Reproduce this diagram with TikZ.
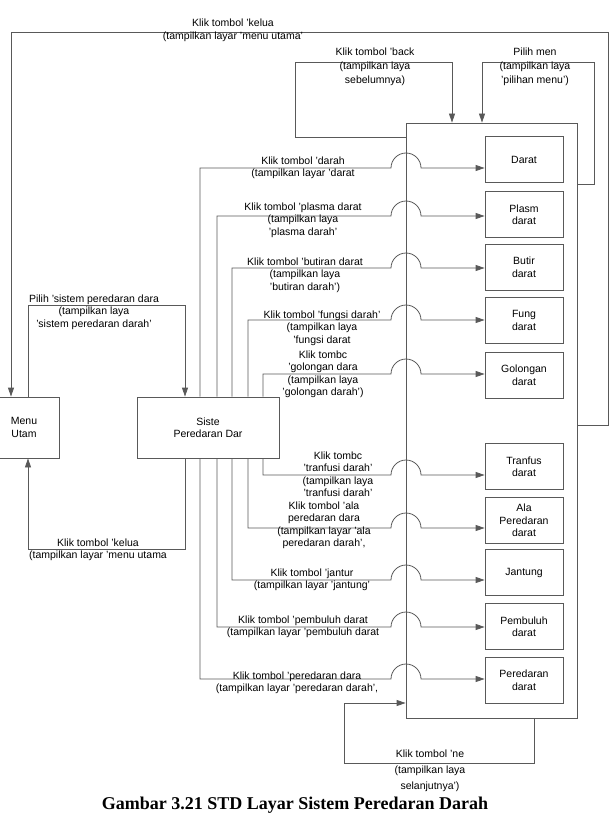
\documentclass[tikz,border=0pt]{standalone}
\usepackage{fontspec}
\setmainfont{Liberation Sans}
\newfontfamily\capfont{Liberation Serif}
\usetikzlibrary{arrows.meta}
\tikzset{pin/.style={-{Triangle[length=9pt,width=6pt]}},
  wire/.style={draw=black!65, line width=0.8pt},
  blk/.style={draw=black!65, line width=0.8pt, align=center, inner sep=0pt,
    minimum width=78pt, minimum height=46pt},
  lbl/.style={align=center, inner sep=0pt},
  lblwide/.style={lbl, font=\fontsize{10.5}{14}\selectfont}}

\begin{document}
\begin{tikzpicture}[x=1pt, y=-1pt, font=\fontsize{10.5}{12.5}\selectfont]
  \useasboundingbox (0,0) rectangle (614,821);
  % main screens
  \node[blk, minimum width=70pt, minimum height=61pt] (menu) at (24,427.5) {Menu\\Utam};
  \node[blk, minimum width=142pt, minimum height=61pt] (sis) at (208,427.5) {Siste\\Peredaran Dar};
  % frame holding the sub screens
  \node[blk, minimum width=171pt, minimum height=595pt] (frame) at (491.5,420.5) {};
  \foreach \nm/\y/\txt in {darah/159.5/{Darat}, plasma/214.5/{Plasm\\darat},
    butir/267/{Butir\\darat}, fungsi/320.5/{Fung\\darat}, golongan/375/{Golongan\\darat},
    tranfusi/466.5/{Tranfus\\darat}, alat/520.5/{Ala\\Peredaran\\darat},
    jantung/572.5/{Jantung}, pembuluh/626.5/{Pembuluh\\darat}, peredaran/680/{Peredaran\\darat}}{
    \node[blk] (\nm) at (524,\y) {\txt};
  }
  % branches leaving the top of the sistem screen
  \foreach \nm/\x/\y/\lx/\ly/\txt in {
    darah/200/168/303/168/{Klik tombol 'darah\\(tampilkan layar 'darat},
    plasma/217/216/303/220/{Klik tombol 'plasma darat\\(tampilkan laya\\'plasma darah'},
    butir/232/268/305/275/{Klik tombol 'butiran darat\\(tampilkan laya\\'butiran darah')},
    fungsi/248/320/322/328/{Klik tombol 'fungsi darah'\\(tampilkan laya\\'fungsi darat},
    golongan/263/374/323/374.5/{Klik tombc\\'golongan dara\\(tampilkan laya\\'golongan darah')}}{
    \draw[wire, pin] (\x,0 |- sis.north) |- (391,\y) arc[start angle=180, end angle=360, radius=15] -- (\nm.west |- 0,\y);
    \node[lbl] (l\nm) at (\lx,\ly) {\txt};
  }
  % branches leaving the bottom
  \foreach \nm/\x/\y/\lx/\ly/\txt in {
    tranfusi/263/475/338/474/{Klik tombc\\'tranfusi darah'\\(tampilkan laya\\'tranfusi darah'},
    alat/248/528/324/525.5/{Klik tombol 'ala\\peredaran dara\\(tampilkan layar 'ala\\peredaran darah',},
    jantung/232/580/312/580/{Klik tombol 'jantur\\(tampilkan layar 'jantung'},
    pembuluh/217/627/303/627/{Klik tombol 'pembuluh darat\\(tampilkan layar 'pembuluh darat},
    peredaran/200/679/297/683/{Klik tombol 'peredaran dara\\(tampilkan layar 'peredaran darah',}}{
    \draw[wire, pin] (\x,0 |- sis.south) |- (391,\y) arc[start angle=180, end angle=360, radius=15] -- (\nm.west |- 0,\y);
    \node[lbl] (l\nm) at (\lx,\ly) {\txt};
  }
  % menu <-> sistem
  \draw[wire, pin] (28,0 |- menu.north) |- (185,305) -- (185,0 |- sis.north);
  \node[lbl] (lsistem) at (94,312) {Pilih 'sistem peredaran dara\\(tampilkan laya\\'sistem peredaran darah'};
  \draw[wire, pin] (185,0 |- sis.south) |- (28,549) -- (28,0 |- menu.south);
  \node[lbl] (lkembali) at (98,550) {Klik tombol 'kelua\\(tampilkan layar 'menu utama};
  % loops on the frame
  \draw[wire, pin] (frame.east |- 0,425) -- (608,425) |- (11,32) -- (11,0 |- menu.north);
  \node[lbl] (lkeluar) at (233,30.5) {Klik tombol 'kelua\\(tampilkan layar 'menu utama'};
  \draw[wire, pin] (frame.west |- 0,137) -- (295,137) |- (452,62) -- (452,0 |- frame.north);
  \node[lblwide] (lback) at (375,67) {Klik tombol 'back\\(tampilkan laya\\sebelumnya)};
  \draw[wire, pin] (frame.east |- 0,184) -- (594,184) |- (482,62) -- (482,0 |- frame.north);
  \node[lblwide] (lpilih) at (535,67) {Pilih men\\(tampilkan laya\\'pilihan menu')};
  \draw[wire, pin] (534,0 |- frame.south) |- (344,763) -- (344,703) -- (frame.west |- 0,703);
  \node[lbl, font=\fontsize{10.5}{16}\selectfont] (lnext) at (430,771) {Klik tombol 'ne\\(tampilkan laya\\selanjutnya')};
  % caption
  \node[font=\capfont\bfseries\fontsize{18}{21}\selectfont, inner sep=0pt] (cap) at (295,805) {Gambar 3.21 STD Layar Sistem Peredaran Darah};
\end{tikzpicture}
\end{document}
